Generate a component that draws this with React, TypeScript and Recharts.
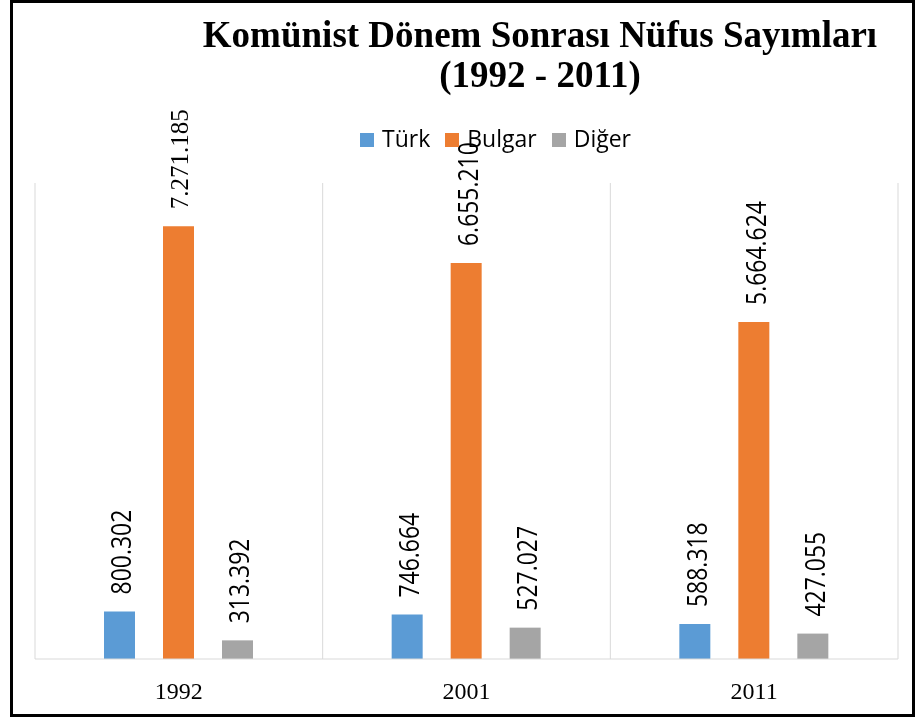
import React from 'react';
import { BarChart, Bar, XAxis, YAxis, CartesianGrid, Legend, LabelList } from 'recharts';

const years = ['1992', '2001', '2011'];
const turk = [800302, 746664, 588318];
const bulgar = [7271185, 6655210, 5664624];
const diger = [313392, 527027, 427055];
const seriesNames = ['Türk', 'Bulgar', 'Diğer'];
const seriesColors = ['#5B9BD5', '#ED7D31', '#A5A5A5'];
const titleLines = ['Komünist Dönem Sonrası Nüfus Sayımları', '(1992 - 2011)'];

const data = years.map((y, i) => ({ year: y, 'Türk': turk[i], Bulgar: bulgar[i], 'Diğer': diger[i] }));

const fmt = (v: number) => String(v).replace(/\B(?=(\d{3})+(?!\d))/g, '.');

const SANS = "'Open Sans', 'DejaVu Sans', sans-serif";
const SERIF = "'Liberation Serif', 'Times New Roman', serif";

const makeLabel = (key: string) => (props: any) => {
  const { x, y, width, value, index } = props;
  const cx = Number(x) + Number(width) / 2 + 1;
  const ty = Number(y) - 17;
  const serif = key === 'Bulgar' && index === 0;
  return (
    <text
      x={0}
      y={0}
      transform={`translate(${cx} ${ty}) rotate(-90) scale(${serif ? 1 : 0.85} 1)`}
      textAnchor="start"
      dominantBaseline="central"
      fill="#000"
      fontSize={serif ? 25 : 27}
      fontFamily={serif ? SERIF : SANS}
    >
      {fmt(Number(value))}
    </text>
  );
};

const LegendContent = () => (
  <div style={{ display: 'flex', alignItems: 'flex-start', paddingLeft: 350, height: 30 }}>
    {seriesNames.map((n, i) => (
      <div key={n} style={{ display: 'flex', alignItems: 'flex-start', marginRight: 15 }}>
        <div style={{ width: 14, height: 14, background: seriesColors[i], marginTop: 10, marginRight: 8 }} />
        <span style={{ fontFamily: SANS, fontSize: 23, lineHeight: '30px', color: '#000' }}>{n}</span>
      </div>
    ))}
  </div>
);

export default function App() {
  return (
    <div style={{ position: 'fixed', width: 905, height: 717, top: 0, left: 10 }}>
      <div style={{ position: 'absolute', left: 0, top: 0 }}>
        <BarChart
          width={905}
          height={717}
          data={data}
          margin={{ top: 183, right: 17, bottom: 18, left: 25 }}
          barSize={31}
          barGap={28}
        >
          <CartesianGrid
            horizontal={false}
            stroke="#D9D9D9"
            verticalCoordinatesGenerator={({ offset }: any) =>
              [0, 1, 2, 3].map((i) => offset.left + (offset.width * i) / years.length)
            }
          />
          <XAxis
            dataKey="year"
            axisLine={{ stroke: '#D9D9D9' }}
            tickLine={false}
            tickSize={0}
            tickMargin={23}
            height={40}
            tick={{ fill: '#000', fontSize: 24, fontFamily: SERIF }}
          />
          <YAxis hide domain={[0, 8000000]} type="number" />
          <Legend
            layout="horizontal"
            verticalAlign="middle"
            align="center"
            wrapperStyle={{ top: 123, left: 0, width: 905 }}
            content={<LegendContent />}
          />
          {seriesNames.map((n, i) => (
            <Bar key={n} dataKey={n} fill={seriesColors[i]} isAnimationActive={false}>
              <LabelList dataKey={n} content={makeLabel(n)} />
            </Bar>
          ))}
        </BarChart>
      </div>
      <div
        style={{
          position: 'absolute',
          left: 130,
          top: 15,
          width: 800,
          textAlign: 'center',
          fontFamily: SERIF,
          fontWeight: 'bold',
          fontSize: 37,
          lineHeight: '40px',
          color: '#000',
        }}
      >
        {titleLines.map((t) => (
          <div key={t}>{t}</div>
        ))}
      </div>
      <div
        style={{
          position: 'absolute',
          left: 0,
          top: 0,
          width: 905,
          height: 717,
          border: '3px solid #000',
          boxSizing: 'border-box',
          pointerEvents: 'none',
        }}
      />
    </div>
  );
}
